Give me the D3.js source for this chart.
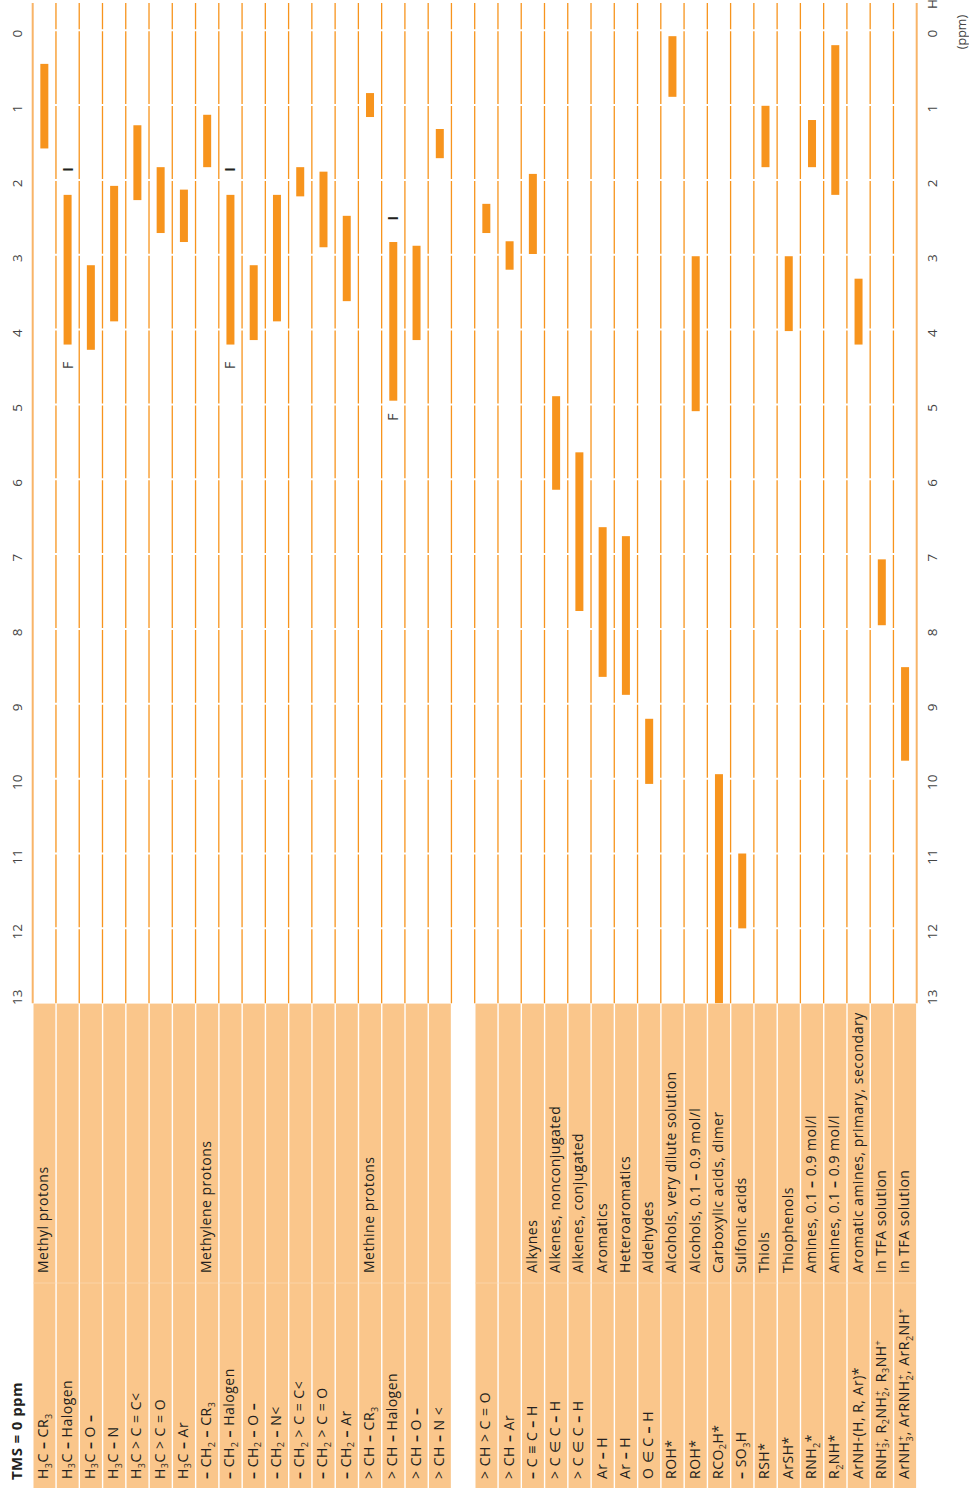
<!DOCTYPE html>
<html>
<head>
<meta charset="utf-8">
<script src="https://cdn.jsdelivr.net/npm/d3@7"></script>
<style>
  body { margin: 0; background: #fff; }
  svg { display: block; font-family: "Open Sans", sans-serif; }
</style>
</head>
<body>
<script>
// formulas, one per row (row 18 is the empty spacer between the groups)
var formulas = [
  "H_3C – CR_3", "H_3C – Halogen", "H_3C – O –", "H_3C – N", "H_3C > C = C<",
  "H_3C > C = O", "H_3C – Ar", "– CH_2 – CR_3", "– CH_2 – Halogen", "– CH_2 – O –",
  "– CH_2 – N<", "– CH_2 > C = C<", "– CH_2 > C = O", "– CH_2 – Ar", "> CH – CR_3",
  "> CH – Halogen", "> CH – O –", "> CH – N <", "",
  "> CH > C = O", "> CH – Ar", "– C ≡ C – H", "> C ∈ C – H", "> C ∈ C – H",
  "Ar – H", "Ar – H", "O ∈ C – H", "ROH*", "ROH*",
  "RCO_2H*", "– SO_3H", "RSH*", "ArSH*", "RNH_2*",
  "R_2NH*", "ArNH-(H, R, Ar)*", "RNH_3^+, R_2NH_2^+, R_3NH^+", "ArNH_3^+, ArRNH_2^+, ArR_2NH^+"
];

var descriptions = [
  "Methyl protons", "", "", "", "", "", "", "Methylene protons", "", "",
  "", "", "", "", "Methine protons", "", "", "", "",
  "", "", "Alkynes", "Alkenes, nonconjugated", "Alkenes, conjugated",
  "Aromatics", "Heteroaromatics", "Aldehydes", "Alcohols, very dilute solution", "Alcohols, 0.1 – 0.9 mol/l",
  "Carboxylic acids, dimer", "Sulfonic acids", "Thiols", "Thiophenols", "Amines, 0.1 – 0.9 mol/l",
  "Amines, 0.1 – 0.9 mol/l", "Aromatic amines, primary, secondary", "in TFA solution", "in TFA solution"
];

// shift ranges in ppm
var shiftLow = [
  0.45, 2.2, 3.14, 2.08, 1.27, 1.83, 2.13, 1.13, 2.2, 3.14,
  2.2, 1.83, 1.89, 2.48, 0.84, 2.83, 2.88, 1.32, null,
  2.32, 2.82, 1.92, 4.89, 5.64, 6.64, 6.76, 9.2, 0.08, 3.02,
  9.94, 11.0, 1.01, 3.02, 1.2, 0.2, 3.32, 7.07, 8.51
];
var shiftHigh = [
  1.58, 4.2, 4.27, 3.89, 2.27, 2.71, 2.83, 1.83, 4.2, 4.14,
  3.89, 2.22, 2.9, 3.62, 1.16, 4.95, 4.14, 1.71, null,
  2.71, 3.2, 2.99, 6.14, 7.76, 8.64, 8.88, 10.07, 0.89, 5.09,
  13.0, 12.0, 1.83, 4.02, 1.83, 2.2, 4.2, 7.95, 9.76
];

// halogen markers (I at the upfield end, F at the downfield end)
var markRows = [1, 1, 8, 8, 15, 15];
var markPpm = [1.86, 4.48, 1.86, 4.48, 2.51, 5.17];
var markText = ["I", "F", "I", "F", "I", "F"];

var ppmTicks = d3.range(0, 14);

var W = 969, H = 1491;
var orange = "#F7941D", light = "#FAC68B";

var svg = d3.select("body").append("svg")
  .attr("width", W)
  .attr("height", H);

var y = d3.scaleLinear().domain([0, 13]).range([30.2, 1003.2]);
var x = d3.scaleBand().domain(d3.range(formulas.length)).range([32.7, 916.7]);
var bw = x.bandwidth();

// row separators
var inner = d3.range(1, formulas.length);
svg.append("g").selectAll("line")
  .data(inner)
  .join("line")
  .attr("x1", function(d){ return x.range()[0] + d * bw; })
  .attr("x2", function(d){ return x.range()[0] + d * bw; })
  .attr("y1", 3)
  .attr("y2", y(13))
  .attr("stroke", orange)
  .attr("stroke-width", 1.3);

// white breaks at every ppm
svg.append("g").selectAll("line")
  .data(ppmTicks.slice(0, 13))
  .join("line")
  .attr("x1", x.range()[0] + 1)
  .attr("x2", x.range()[1] - 1)
  .attr("y1", function(d){ return y(d); })
  .attr("y2", function(d){ return y(d); })
  .attr("stroke", "#fff")
  .attr("stroke-width", 2);

// outer borders
svg.append("g").selectAll("line")
  .data(x.range())
  .join("line")
  .attr("x1", function(d){ return d; })
  .attr("x2", function(d){ return d; })
  .attr("y1", 3)
  .attr("y2", y(13))
  .attr("stroke", "#F8B468")
  .attr("stroke-width", 2);

// bars
var rows = d3.range(formulas.length).filter(function(i){ return shiftLow[i] != null; });
svg.append("g").selectAll("rect")
  .data(rows)
  .join("rect")
  .attr("x", function(i){ return x(i) + bw / 2 - 4; })
  .attr("width", 8)
  .attr("y", function(i){ return y(shiftLow[i]); })
  .attr("height", function(i){ return y(shiftHigh[i]) - y(shiftLow[i]); })
  .attr("fill", orange);

// I / F markers
svg.append("g").selectAll("text")
  .data(d3.range(markRows.length))
  .join("text")
  .attr("transform", function(i){
    return "translate(" + (x(markRows[i]) + bw / 2 + 5) + "," + y(markPpm[i]) + ") rotate(-90)";
  })
  .attr("text-anchor", "middle")
  .attr("font-size", 14)
  .attr("font-weight", function(i){ return markText[i] == "I" ? 700 : 400; })
  .attr("fill", function(i){ return markText[i] == "I" ? "#231f20" : "#444"; })
  .text(function(i){ return markText[i]; });

// ppm axes on both sides
function ppmAxis(px) {
  var g = svg.append("g")
    .attr("transform", "translate(" + px + ",0)")
    .call(d3.axisLeft(y).tickValues(ppmTicks).tickSize(0).tickPadding(0).tickFormat(d3.format("d")));
  g.select(".domain").remove();
  g.selectAll("text")
    .attr("transform", "rotate(-90)")
    .attr("text-anchor", "middle")
    .attr("dy", null)
    .attr("x", function(d){ return d == 13 ? 6.5 : -3; })
    .attr("y", 0)
    .attr("font-family", "Open Sans, sans-serif")
    .attr("font-size", 13.5)
    .attr("fill", "#444");
}
ppmAxis(21.7);
ppmAxis(936.7);

svg.append("text")
  .attr("transform", "translate(936.7,4) rotate(-90)")
  .attr("text-anchor", "middle")
  .attr("font-size", 13.5)
  .attr("fill", "#444")
  .text("H");
svg.append("text")
  .attr("transform", "translate(966,32) rotate(-90)")
  .attr("text-anchor", "middle")
  .attr("font-size", 12.5)
  .attr("fill", "#444")
  .text("(ppm)");

// label table
var tableTop = 1003.6, tableBottom = 1488;
svg.append("g").selectAll("rect")
  .data(rows)
  .join("rect")
  .attr("x", function(i){ return x(i) + 0.8; })
  .attr("width", bw - 1.4)
  .attr("y", tableTop)
  .attr("height", tableBottom - tableTop)
  .attr("fill", light);

svg.append("g").selectAll("line")
  .data(rows)
  .join("line")
  .attr("x1", function(i){ return x(i) + 0.8; })
  .attr("x2", function(i){ return x(i) + bw - 0.6; })
  .attr("y1", 1283)
  .attr("y2", 1283)
  .attr("stroke", "#FBD3A6")
  .attr("stroke-width", 1);

function rich(sel, str) {
  var parts = str.split(/(_.|\^.|–)/).filter(function(s){ return s !== ""; });
  var shift = 0, prevSub = false;
  parts.forEach(function(p){
    var t = sel.append("tspan");
    var target = 0, txt = p;
    if (p.length == 2 && p[0] == "_") {
      target = 3.5; txt = p[1]; t.attr("font-size", 9);
    } else if (p.length == 2 && p[0] == "^") {
      target = -5; txt = p[1]; t.attr("font-size", 9);
      if (prevSub) t.attr("dx", -5);
    } else if (p == "–") {
      t.attr("font-weight", 700);
    }
    t.attr("dy", target - shift);
    shift = target;
    t.text(txt);
    prevSub = p.length == 2 && p[0] == "_";
  });
}

var labelG = svg.append("g")
  .attr("font-size", 14)
  .attr("letter-spacing", 0.5)
  .attr("fill", "#231f20");

rows.forEach(function(i){
  var bx = x(i) + bw / 2 + 4;
  var t1 = labelG.append("text")
    .attr("transform", "translate(" + bx + ",1479) rotate(-90)");
  rich(t1, formulas[i]);
  if (descriptions[i]) {
    var t2 = labelG.append("text")
      .attr("transform", "translate(" + bx + ",1273) rotate(-90)");
    rich(t2, descriptions[i]);
  }
});

svg.append("text")
  .attr("transform", "translate(22,1480) rotate(-90)")
  .attr("font-size", 15)
  .attr("font-weight", 700)
  .attr("letter-spacing", 0.4)
  .attr("fill", "#231f20")
  .text("TMS = 0 ppm");
</script>
</body>
</html>
